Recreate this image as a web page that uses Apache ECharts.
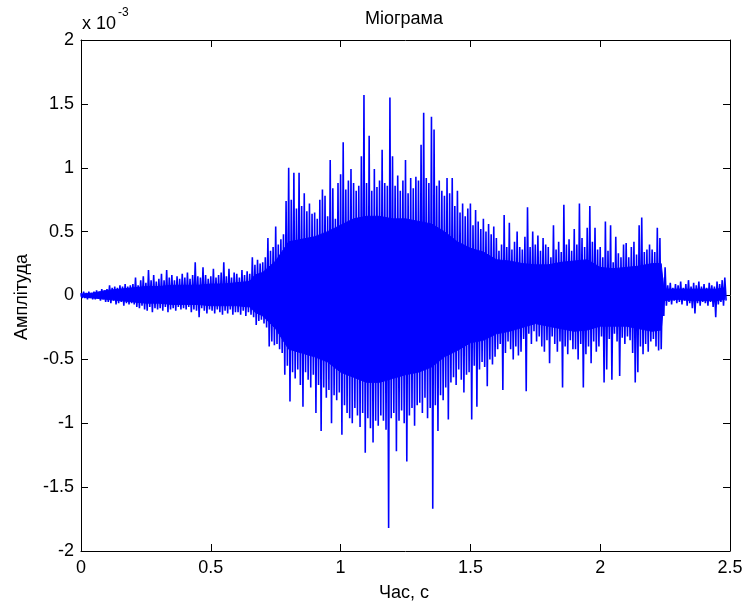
<!DOCTYPE html>
<html>
<head>
<meta charset="utf-8">
<script src="https://cdn.jsdelivr.net/npm/echarts@6/dist/echarts.min.js"></script>
<style>
html,body{margin:0;padding:0;background:#fff;}
#chart{width:746px;height:605px;}
</style>
</head>
<body>
<div id="chart"></div>
<script>
// Values in units of 10^-3 (as shown by the axis multiplier)
const sampleStep = 0.01; // s between envelope samples
const upper = [
0.02,0.03,0.02,0.03,0.02,0.03,0.04,0.03,0.05,0.04,
0.05,0.08,0.06,0.07,0.06,0.08,0.07,0.09,0.07,0.08,
0.09,0.14,0.08,0.12,0.15,0.10,0.20,0.12,0.16,0.11,
0.13,0.17,0.12,0.20,0.14,0.16,0.12,0.15,0.13,0.17,
0.14,0.18,0.13,0.16,0.26,0.15,0.14,0.22,0.16,0.13,
0.15,0.21,0.14,0.16,0.18,0.26,0.15,0.21,0.14,0.18,
0.17,0.14,0.20,0.16,0.19,0.17,0.30,0.24,0.28,0.25,
0.26,0.30,0.45,0.35,0.38,0.54,0.40,0.44,0.48,0.74,
1.00,0.75,0.96,0.68,0.96,0.70,0.80,0.66,0.72,0.64,
0.65,0.60,0.75,0.83,0.78,0.62,1.06,0.84,0.60,0.88,
0.95,1.20,0.83,0.90,0.99,0.88,0.82,0.86,1.09,1.57,
0.88,1.25,0.82,0.99,0.85,0.90,1.14,0.88,0.86,1.55,
1.09,0.86,0.94,0.82,0.90,1.06,0.80,0.92,0.84,0.93,
0.90,1.18,1.43,0.92,0.88,1.40,1.30,0.86,0.90,0.82,
0.78,0.92,0.80,0.92,0.70,0.82,0.65,0.72,0.62,0.68,
0.72,0.55,0.67,0.58,0.52,0.60,0.50,0.56,0.48,0.54,
0.45,0.35,0.40,0.63,0.38,0.57,0.36,0.42,0.50,0.38,
0.36,0.46,0.69,0.38,0.50,0.40,0.47,0.35,0.45,0.40,
0.38,0.30,0.55,0.36,0.42,0.34,0.71,0.40,0.44,0.35,
0.52,0.40,0.72,0.45,0.38,0.53,0.70,0.42,0.53,0.36,
0.38,0.30,0.58,0.35,0.55,0.26,0.46,0.33,0.30,0.40,
0.41,0.30,0.38,0.42,0.32,0.55,0.61,0.34,0.36,0.40,
0.36,0.34,0.53,0.45,0.14,0.22,0.08,0.10,0.06,0.09,
0.08,0.11,0.06,0.09,0.12,0.07,0.10,0.08,0.11,0.07,
0.09,0.06,0.10,0.08,0.07,0.11,0.09,0.12,0.14
];
const lower = [
-0.02,-0.02,-0.03,-0.02,-0.03,-0.03,-0.02,-0.04,-0.03,-0.05,
-0.05,-0.06,-0.04,-0.07,-0.06,-0.05,-0.08,-0.06,-0.07,-0.06,
-0.07,-0.09,-0.10,-0.08,-0.11,-0.12,-0.09,-0.13,-0.10,-0.11,
-0.10,-0.12,-0.09,-0.13,-0.11,-0.10,-0.12,-0.09,-0.11,-0.10,
-0.11,-0.09,-0.13,-0.11,-0.12,-0.17,-0.10,-0.12,-0.14,-0.11,
-0.12,-0.14,-0.11,-0.13,-0.15,-0.12,-0.14,-0.11,-0.15,-0.13,
-0.13,-0.15,-0.12,-0.16,-0.13,-0.15,-0.17,-0.23,-0.20,-0.19,
-0.22,-0.25,-0.40,-0.36,-0.39,-0.38,-0.42,-0.45,-0.62,-0.55,
-0.83,-0.60,-0.65,-0.58,-0.70,-0.87,-0.60,-0.66,-0.72,-0.62,
-0.92,-0.70,-1.06,-0.72,-0.80,-0.74,-1.00,-0.78,-0.82,-0.76,
-1.09,-0.86,-0.92,-0.96,-1.00,-0.88,-0.94,-1.03,-0.92,-1.23,
-0.96,-1.04,-1.15,-0.98,-1.02,-0.94,-0.98,-1.05,-1.82,-0.96,
-0.92,-1.22,-0.98,-0.90,-1.00,-1.30,-0.94,-0.88,-1.02,-0.86,
-0.84,-0.92,-0.80,-0.96,-0.88,-1.67,-0.86,-1.06,-0.78,-0.82,
-0.72,-0.97,-0.68,-0.64,-0.70,-0.58,-0.66,-0.76,-0.62,-0.60,
-0.97,-0.55,-0.87,-0.58,-0.52,-0.56,-0.71,-0.50,-0.54,-0.48,
-0.42,-0.38,-0.74,-0.45,-0.36,-0.42,-0.50,-0.40,-0.47,-0.44,
-0.34,-0.75,-0.30,-0.38,-0.28,-0.36,-0.32,-0.40,-0.44,-0.35,
-0.53,-0.32,-0.38,-0.44,-0.36,-0.72,-0.40,-0.46,-0.35,-0.42,
-0.42,-0.50,-0.38,-0.72,-0.46,-0.40,-0.53,-0.36,-0.44,-0.40,
-0.32,-0.68,-0.58,-0.34,-0.66,-0.30,-0.36,-0.63,-0.33,-0.38,
-0.32,-0.35,-0.45,-0.68,-0.60,-0.40,-0.46,-0.38,-0.44,-0.36,
-0.34,-0.40,-0.43,-0.42,-0.16,-0.08,-0.05,-0.07,-0.04,-0.06,
-0.05,-0.07,-0.04,-0.08,-0.06,-0.10,-0.14,-0.06,-0.08,-0.05,
-0.06,-0.08,-0.05,-0.09,-0.17,-0.07,-0.05,-0.08,-0.04
];
// Dense solid core of the signal (where oscillations merge into a solid band)
const bodyT = [0,0.05,0.10,0.15,0.20,0.25,0.30,0.35,0.40,0.45,0.50,0.55,0.60,0.65,0.67,0.70,0.75,0.80,0.85,0.90,0.95,1.00,1.05,1.10,1.15,1.20,1.25,1.30,1.35,1.40,1.45,1.50,1.55,1.60,1.65,1.70,1.75,1.80,1.85,1.90,1.95,2.00,2.05,2.10,2.15,2.20,2.235,2.245,2.30,2.35,2.40,2.45,2.48];
const bodyUpper = [0.01,0.02,0.04,0.05,0.06,0.07,0.07,0.08,0.08,0.08,0.09,0.09,0.10,0.11,0.16,0.18,0.27,0.42,0.44,0.46,0.50,0.55,0.60,0.62,0.62,0.60,0.60,0.58,0.56,0.50,0.42,0.37,0.34,0.28,0.27,0.25,0.24,0.24,0.26,0.27,0.28,0.22,0.21,0.22,0.23,0.25,0.25,0.05,0.05,0.05,0.05,0.05,0.06];
const bodyLower = [-0.01,-0.02,-0.03,-0.04,-0.05,-0.06,-0.06,-0.07,-0.07,-0.07,-0.08,-0.08,-0.08,-0.09,-0.13,-0.16,-0.26,-0.42,-0.45,-0.48,-0.52,-0.60,-0.64,-0.68,-0.68,-0.65,-0.62,-0.60,-0.56,-0.48,-0.43,-0.37,-0.35,-0.30,-0.28,-0.25,-0.22,-0.24,-0.26,-0.28,-0.27,-0.24,-0.24,-0.24,-0.26,-0.28,-0.27,-0.04,-0.03,-0.04,-0.04,-0.04,-0.03];
const xTicks = [0, 0.5, 1, 1.5, 2, 2.5];
const yTicks = [-2, -1.5, -1, -0.5, 0, 0.5, 1, 1.5, 2];
const titleText = 'Міограма';
const xName = 'Час, с';
const yName = 'Амплітуда';

const data = [];
upper.forEach((u, i) => {
  const t = i * sampleStep;
  data.push([t, u]);
  data.push([t + sampleStep / 2, lower[i]]);
});

const FONT = 'Liberation Sans, Arial, sans-serif';
const FS = 18;
const BLUE = '#0000ff';
const chart = echarts.init(document.getElementById('chart'), null, {renderer: 'canvas'});
const axisCommon = {
  axisLine: {show: true, onZero: false, lineStyle: {color: '#000', width: 1}},
  axisTick: {show: true, inside: true, length: 7, lineStyle: {color: '#000', width: 1}},
  splitLine: {show: false}
};
chart.setOption({
  animation: false,
  backgroundColor: '#fff',
  grid: {left: 81, top: 40, right: 16, bottom: 54, containLabel: false},
  xAxis: [
    Object.assign({type: 'value', min: xTicks[0], max: xTicks[xTicks.length-1], interval: 0.5, position: 'bottom',
      axisLabel: {show: true, color: '#000', fontFamily: FONT, fontSize: FS, margin: 8}}, axisCommon),
    Object.assign({type: 'value', min: xTicks[0], max: xTicks[xTicks.length-1], interval: 0.5, position: 'top',
      axisLabel: {show: false}}, axisCommon)
  ],
  yAxis: [
    Object.assign({type: 'value', min: yTicks[0], max: yTicks[yTicks.length-1], interval: 0.5, position: 'left',
      axisLabel: {show: true, color: '#000', fontFamily: FONT, fontSize: FS, margin: 7}}, axisCommon),
    Object.assign({type: 'value', min: yTicks[0], max: yTicks[yTicks.length-1], interval: 0.5, position: 'right',
      axisLabel: {show: false}}, axisCommon)
  ],
  graphic: [
    {type: 'text', x: 404, y: 19, style: {text: titleText, font: FS + 'px ' + FONT, fill: '#000', textAlign: 'center', textVerticalAlign: 'middle'}},
    {type: 'text', x: 404, y: 593, style: {text: xName, font: FS + 'px ' + FONT, fill: '#000', textAlign: 'center', textVerticalAlign: 'middle'}},
    {type: 'text', x: 22, y: 297, rotation: Math.PI / 2, style: {text: yName, font: FS + 'px ' + FONT, fill: '#000', textAlign: 'center', textVerticalAlign: 'middle'}},
    {type: 'text', x: 82, y: 24, style: {text: 'x 10', font: FS + 'px ' + FONT, fill: '#000', textAlign: 'left', textVerticalAlign: 'middle'}},
    {type: 'text', x: 118, y: 13, style: {text: '-3', font: '12px ' + FONT, fill: '#000', textAlign: 'left', textVerticalAlign: 'middle'}}
  ],
  series: [
    {
      type: 'custom',
      xAxisIndex: 0,
      yAxisIndex: 0,
      data: [0],
      silent: true,
      z: 1,
      renderItem: function (params, api) {
        const pts = [];
        for (let i = 0; i < bodyT.length; i++) pts.push(api.coord([bodyT[i], bodyUpper[i]]));
        for (let i = bodyT.length - 1; i >= 0; i--) pts.push(api.coord([bodyT[i], bodyLower[i]]));
        return {type: 'polygon', shape: {points: pts}, style: {fill: BLUE, stroke: BLUE, lineWidth: 1}};
      }
    },
    {
      type: 'line',
      xAxisIndex: 0,
      yAxisIndex: 0,
      data: data,
      z: 2,
      showSymbol: false,
      symbol: 'none',
      sampling: null,
      lineStyle: {color: BLUE, width: 1.6, join: 'bevel'},
      clip: true
    }
  ]
});
</script>
</body>
</html>
